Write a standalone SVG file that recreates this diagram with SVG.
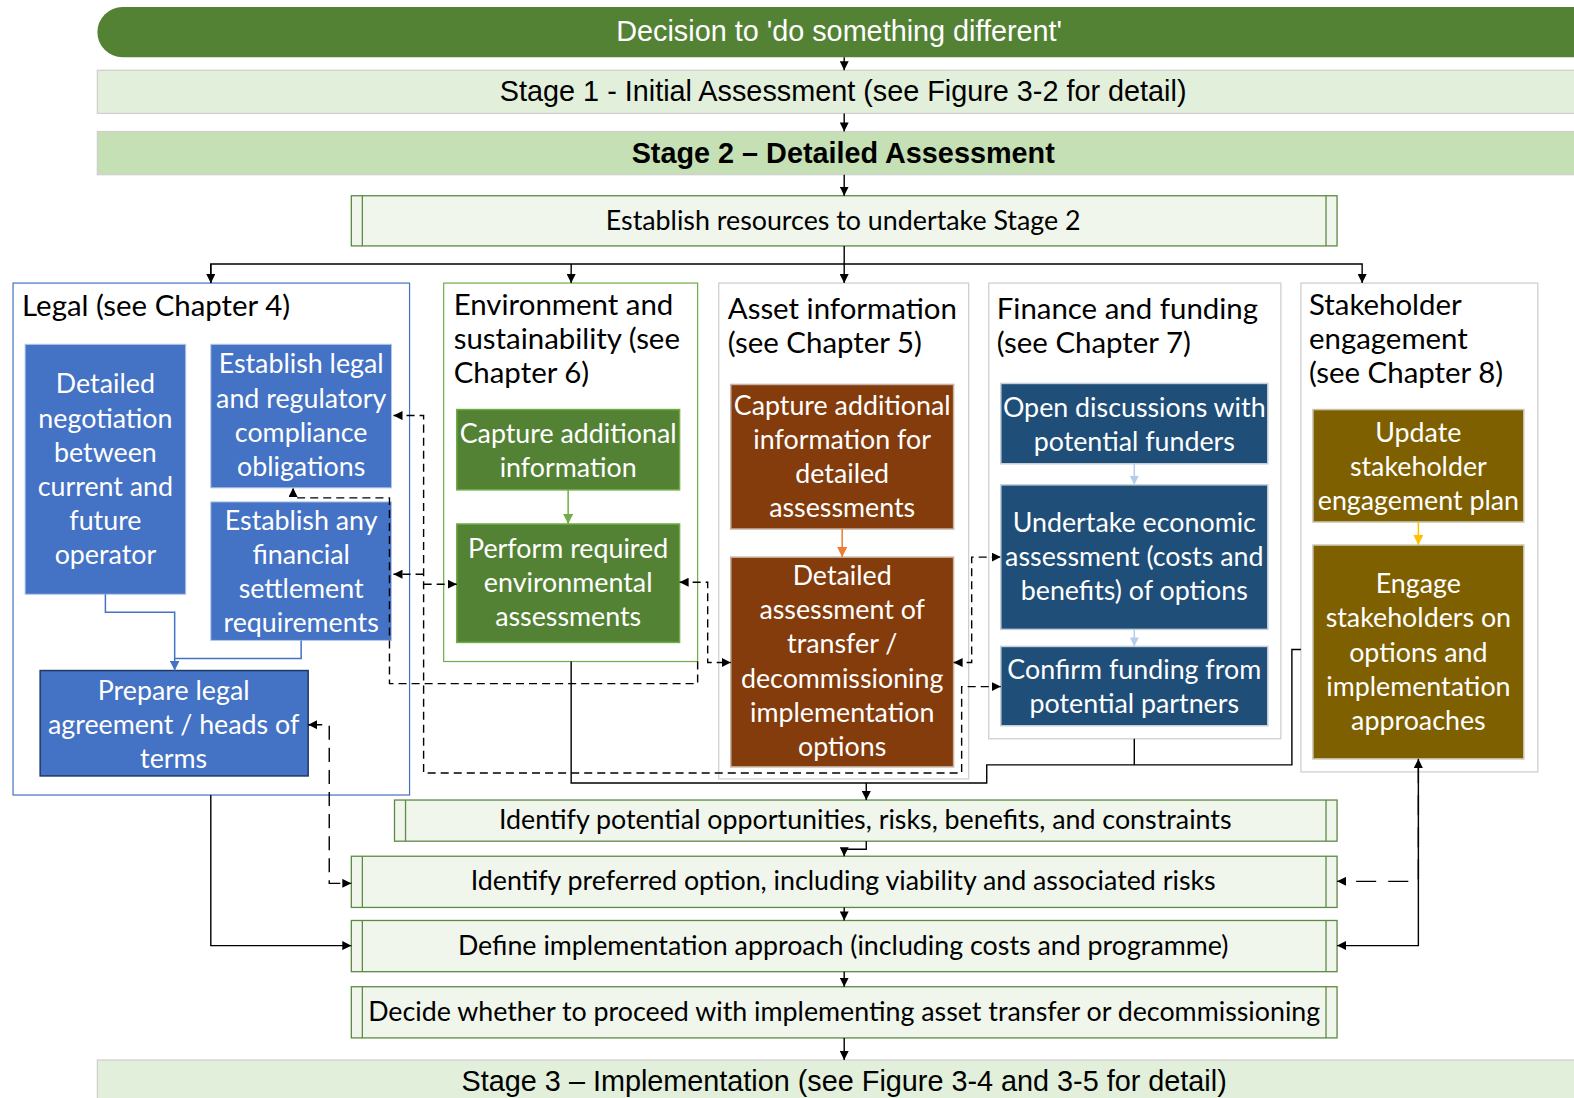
<svg xmlns="http://www.w3.org/2000/svg" width="1574" height="1098" viewBox="0 0 1574 1098">
  <defs>
    <style>
      .bar { font-family: "Liberation Sans", Arial, sans-serif; font-size: 28.7px; text-anchor: middle; fill: #000; }
      .t { font-family: Lato, "Open Sans", sans-serif; font-size: 26.7px; fill: #000; }
      .h { font-family: Lato, "Open Sans", sans-serif; font-size: 29.3px; fill: #000; }
      .w { font-family: Lato, "Open Sans", sans-serif; font-size: 26.7px; fill: #fff; text-anchor: middle; }
      .c { text-anchor: middle; }
      .proc { fill: #F0F6EC; stroke: #5E8A45; stroke-width: 1.3; }
      .procline { stroke: #5E8A45; stroke-width: 1.3; }
      .legal { fill: #4472C4; stroke: #B4C7E7; stroke-width: 1; }
      .env { fill: #548235; stroke: #70AD47; stroke-width: 1.5; }
      .asset { fill: #843C0C; stroke: #C8B4A6; stroke-width: 1.5; }
      .fin { fill: #1F4E79; stroke: #C5CFD9; stroke-width: 1.5; }
      .stk { fill: #7F6000; stroke: #C9C2AE; stroke-width: 1.5; }
      .cont { fill: #fff; stroke: #D0D0D0; stroke-width: 1.3; }
      .ln { fill: none; stroke: #000; stroke-width: 1.4; }
      .dash { fill: none; stroke: #000; stroke-width: 1.4; stroke-dasharray: 8 5; }
      .ldash { fill: none; stroke: #000; stroke-width: 1.4; stroke-dasharray: 14 8; }
      .xldash { fill: none; stroke: #000; stroke-width: 1.4; stroke-dasharray: 20 12; }
    </style>
    <marker id="ah" viewBox="0 0 10 10" refX="10" refY="5" markerWidth="9" markerHeight="9" markerUnits="userSpaceOnUse" orient="auto-start-reverse">
      <path d="M0,0 L10,5 L0,10 z" fill="#000"/>
    </marker>
    <marker id="ahBlue" viewBox="0 0 10 10" refX="10" refY="5" markerWidth="10" markerHeight="10" markerUnits="userSpaceOnUse" orient="auto">
      <path d="M0,0 L10,5 L0,10 z" fill="#4472C4"/>
    </marker>
    <marker id="ahGreen" viewBox="0 0 10 10" refX="10" refY="5" markerWidth="10" markerHeight="10" markerUnits="userSpaceOnUse" orient="auto">
      <path d="M0,0 L10,5 L0,10 z" fill="#70AD47"/>
    </marker>
    <marker id="ahOrange" viewBox="0 0 10 10" refX="10" refY="5" markerWidth="10" markerHeight="10" markerUnits="userSpaceOnUse" orient="auto">
      <path d="M0,0 L10,5 L0,10 z" fill="#ED7D31"/>
    </marker>
    <marker id="ahLight" viewBox="0 0 10 10" refX="10" refY="5" markerWidth="9" markerHeight="9" markerUnits="userSpaceOnUse" orient="auto">
      <path d="M0,0 L10,5 L0,10 z" fill="#B4CDEA"/>
    </marker>
    <marker id="ahYellow" viewBox="0 0 10 10" refX="10" refY="5" markerWidth="10" markerHeight="10" markerUnits="userSpaceOnUse" orient="auto">
      <path d="M0,0 L10,5 L0,10 z" fill="#FFC000"/>
    </marker>
  </defs>

  <rect width="1574" height="1098" fill="#fff"/>

  <g transform="scale(1.0038)">
  <!-- Stage banners -->
  <g id="decision">
    <rect x="97" y="7" width="1530" height="50" rx="25" ry="25" fill="#548235"/>
    <text class="bar" x="836" y="41" style="fill:#fff">Decision to 'do something different'</text>
  </g>
  <g id="stage1">
    <rect x="97" y="70" width="1500" height="43" fill="#E2EFDA" stroke="#D0D0D0" stroke-width="1.3"/>
    <text class="bar" x="840" y="101">Stage 1 - Initial Assessment (see Figure 3-2 for detail)</text>
  </g>
  <g id="stage2">
    <rect x="97" y="131" width="1500" height="43" fill="#C5E0B4" stroke="#D0D0D0" stroke-width="1.3"/>
    <text class="bar" x="840" y="162" font-weight="bold">Stage 2 – Detailed Assessment</text>
  </g>
  <g id="resources">
    <rect class="proc" x="350" y="195" width="982" height="50"/>
    <line class="procline" x1="361" y1="195" x2="361" y2="245"/>
    <line class="procline" x1="1321" y1="195" x2="1321" y2="245"/>
    <text class="t c" x="840" y="229">Establish resources to undertake Stage 2</text>
  </g>

  <!-- Workstream containers -->
  <g id="legal">
    <rect x="13" y="282" width="395" height="510" fill="#fff" stroke="#4472C4" stroke-width="1.2"/>
    <text class="h" x="22" y="315">Legal (see Chapter 4)</text>
  </g>
  <g id="environment">
    <rect x="442" y="282" width="253" height="377" fill="#fff" stroke="#70AD47" stroke-width="1.2"/>
    <text class="h" x="452" y="314">Environment and</text>
    <text class="h" x="452" y="348">sustainability (see</text>
    <text class="h" x="452" y="382">Chapter 6)</text>
  </g>
  <g id="asset">
    <rect class="cont" x="716" y="282" width="249" height="494"/>
    <text class="h" x="725" y="318">Asset information</text>
    <text class="h" x="725" y="352">(see Chapter 5)</text>
  </g>
  <g id="finance">
    <rect class="cont" x="985" y="282" width="291" height="454"/>
    <text class="h" x="993" y="318">Finance and funding</text>
    <text class="h" x="993" y="352">(see Chapter 7)</text>
  </g>
  <g id="stakeholder">
    <rect class="cont" x="1296" y="282" width="236" height="487"/>
    <text class="h" x="1304" y="314">Stakeholder</text>
    <text class="h" x="1304" y="348">engagement</text>
    <text class="h" x="1304" y="382">(see Chapter 8)</text>
  </g>

  <!-- Legal tasks -->
  <g id="negotiation">
    <rect class="legal" x="25" y="343" width="160" height="249"/>
    <text class="w" x="105" y="392">Detailed</text>
    <text class="w" x="105" y="426">negotiation</text>
    <text class="w" x="105" y="460">between</text>
    <text class="w" x="105" y="494">current and</text>
    <text class="w" x="105" y="528">future</text>
    <text class="w" x="105" y="562">operator</text>
  </g>
  <g id="compliance">
    <rect class="legal" x="210" y="343" width="180" height="143"/>
    <text class="w" x="300" y="372">Establish legal</text>
    <text class="w" x="300" y="406">and regulatory</text>
    <text class="w" x="300" y="440">compliance</text>
    <text class="w" x="300" y="474">obligations</text>
  </g>
  <g id="settlement">
    <rect class="legal" x="210" y="500" width="180" height="138"/>
    <text class="w" x="300" y="528">Establish any</text>
    <text class="w" x="300" y="562">financial</text>
    <text class="w" x="300" y="596">settlement</text>
    <text class="w" x="300" y="630">requirements</text>
  </g>
  <g id="agreement">
    <rect x="40" y="668" width="267" height="105" fill="#4472C4" stroke="#203864" stroke-width="1.5"/>
    <text class="w" x="173" y="697">Prepare legal</text>
    <text class="w" x="173" y="731">agreement / heads of</text>
    <text class="w" x="173" y="765">terms</text>
  </g>

  <!-- Environment tasks -->
  <g id="env-capture">
    <rect class="env" x="455" y="408" width="222" height="80"/>
    <text class="w" x="566" y="441">Capture additional</text>
    <text class="w" x="566" y="475">information</text>
  </g>
  <g id="env-assess">
    <rect class="env" x="455" y="522" width="222" height="118"/>
    <text class="w" x="566" y="556">Perform required</text>
    <text class="w" x="566" y="590">environmental</text>
    <text class="w" x="566" y="624">assessments</text>
  </g>

  <!-- Asset tasks -->
  <g id="asset-capture">
    <rect class="asset" x="728" y="383" width="222" height="144"/>
    <text class="w" x="839" y="413">Capture additional</text>
    <text class="w" x="839" y="447">information for</text>
    <text class="w" x="839" y="481">detailed</text>
    <text class="w" x="839" y="515">assessments</text>
  </g>
  <g id="asset-options">
    <rect class="asset" x="728" y="555" width="222" height="209"/>
    <text class="w" x="839" y="583">Detailed</text>
    <text class="w" x="839" y="617">assessment of</text>
    <text class="w" x="839" y="651">transfer /</text>
    <text class="w" x="839" y="685">decommissioning</text>
    <text class="w" x="839" y="719">implementation</text>
    <text class="w" x="839" y="753">options</text>
  </g>

  <!-- Finance tasks -->
  <g id="fin-discuss">
    <rect class="fin" x="997" y="382" width="266" height="80"/>
    <text class="w" x="1130" y="415">Open discussions with</text>
    <text class="w" x="1130" y="449">potential funders</text>
  </g>
  <g id="fin-economic">
    <rect class="fin" x="997" y="483" width="266" height="144"/>
    <text class="w" x="1130" y="530">Undertake economic</text>
    <text class="w" x="1130" y="564">assessment (costs and</text>
    <text class="w" x="1130" y="598">benefits) of options</text>
  </g>
  <g id="fin-confirm">
    <rect class="fin" x="997" y="644" width="266" height="79"/>
    <text class="w" x="1130" y="676">Confirm funding from</text>
    <text class="w" x="1130" y="710">potential partners</text>
  </g>

  <!-- Stakeholder tasks -->
  <g id="stk-plan">
    <rect class="stk" x="1308" y="408" width="210" height="112"/>
    <text class="w" x="1413" y="440">Update</text>
    <text class="w" x="1413" y="474">stakeholder</text>
    <text class="w" x="1413" y="508">engagement plan</text>
  </g>
  <g id="stk-engage">
    <rect class="stk" x="1308" y="543" width="210" height="213"/>
    <text class="w" x="1413" y="591">Engage</text>
    <text class="w" x="1413" y="625">stakeholders on</text>
    <text class="w" x="1413" y="659">options and</text>
    <text class="w" x="1413" y="693">implementation</text>
    <text class="w" x="1413" y="727">approaches</text>
  </g>

  <!-- Closing process steps -->
  <g id="opportunities">
    <rect class="proc" x="393" y="797" width="939" height="41"/>
    <line class="procline" x1="404" y1="797" x2="404" y2="838"/>
    <line class="procline" x1="1321" y1="797" x2="1321" y2="838"/>
    <text class="t c" x="862" y="826">Identify potential opportunities, risks, benefits, and constraints</text>
  </g>
  <g id="preferred">
    <rect class="proc" x="350" y="853" width="982" height="51"/>
    <line class="procline" x1="361" y1="853" x2="361" y2="904"/>
    <line class="procline" x1="1321" y1="853" x2="1321" y2="904"/>
    <text class="t c" x="840" y="887">Identify preferred option, including viability and associated risks</text>
  </g>
  <g id="approach">
    <rect class="proc" x="350" y="917" width="982" height="51"/>
    <line class="procline" x1="361" y1="917" x2="361" y2="968"/>
    <line class="procline" x1="1321" y1="917" x2="1321" y2="968"/>
    <text class="t c" x="840" y="951">Define implementation approach (including costs and programme)</text>
  </g>
  <g id="decide">
    <rect class="proc" x="350" y="983" width="982" height="51"/>
    <line class="procline" x1="361" y1="983" x2="361" y2="1034"/>
    <line class="procline" x1="1321" y1="983" x2="1321" y2="1034"/>
    <text class="t c" x="841" y="1017">Decide whether to proceed with implementing asset transfer or decommissioning</text>
  </g>
  <g id="stage3">
    <rect x="97" y="1056" width="1500" height="60" fill="#E2EFDA" stroke="#D0D0D0" stroke-width="1.3"/>
    <text class="bar" x="841" y="1087">Stage 3 – Implementation (see Figure 3-4 and 3-5 for detail)</text>
  </g>

  <!-- Connectors -->
  <g id="connectors">
    <!-- main spine -->
    <path class="ln" d="M841,57 V70" marker-end="url(#ah)"/>
    <path class="ln" d="M841,113 V131" marker-end="url(#ah)"/>
    <path class="ln" d="M841,174 V195" marker-end="url(#ah)"/>
    <path class="ln" d="M841,245 V282" marker-end="url(#ah)"/>
    <path class="ln" d="M210,282 V263 H1357 V282" marker-end="url(#ah)"/>
    <path class="ln" d="M210,263 V282" marker-end="url(#ah)"/>
    <path class="ln" d="M569,263 V282" marker-end="url(#ah)"/>

    <!-- workstream outputs gathered into the opportunities step -->
    <path class="ln" d="M569,659 V780 H983 V762 H1287 V647 H1296"/>
    <path class="ln" d="M1130,736 V762"/>
    <path class="ln" d="M863,780 V797" marker-end="url(#ah)"/>
    <path class="ln" d="M863,838 V846 H841 V853" marker-end="url(#ah)"/>
    <path class="ln" d="M841,904 V917" marker-end="url(#ah)"/>
    <path class="ln" d="M841,968 V983" marker-end="url(#ah)"/>
    <path class="ln" d="M841,1034 V1056" marker-end="url(#ah)"/>
    <path class="ln" d="M210,792 V942 H350" marker-end="url(#ah)"/>
    <path class="ln" d="M1332,942 H1413 V756" marker-start="url(#ah)" marker-end="url(#ah)"/>

    <!-- flows inside workstreams -->
    <path d="M105,592 V610 H174 V668" fill="none" stroke="#4472C4" stroke-width="1.5" marker-end="url(#ahBlue)"/>
    <path d="M300,638 V656 H174" fill="none" stroke="#4472C4" stroke-width="1.5"/>
    <path d="M566,488 V522" fill="none" stroke="#70AD47" stroke-width="1.5" marker-end="url(#ahGreen)"/>
    <path d="M839,527 V555" fill="none" stroke="#ED7D31" stroke-width="1.5" marker-end="url(#ahOrange)"/>
    <path d="M1130,462 V483" fill="none" stroke="#B4CDEA" stroke-width="1.5" marker-end="url(#ahLight)"/>
    <path d="M1130,627 V644" fill="none" stroke="#B4CDEA" stroke-width="1.5" marker-end="url(#ahLight)"/>
    <path d="M1413,520 V543" fill="none" stroke="#FFC000" stroke-width="1.5" marker-end="url(#ahYellow)"/>

    <!-- dashed interdependencies -->
    <path class="dash" d="M392,414 H422 V770 H958 V684 H997" marker-start="url(#ah)" marker-end="url(#ah)"/>
    <path class="dash" d="M422,572 H392" marker-end="url(#ah)"/>
    <path class="dash" d="M422,582 H455" marker-end="url(#ah)"/>
    <path class="dash" d="M695,659 V681 H388 V496 H292 V486" marker-end="url(#ah)"/>
    <path class="dash" d="M677,580 H705 V660 H728" marker-start="url(#ah)" marker-end="url(#ah)"/>
    <path class="dash" d="M950,660 H968 V555 H997" marker-start="url(#ah)" marker-end="url(#ah)"/>
    <path class="ldash" d="M307,722 H328 V880 H350" marker-start="url(#ah)" marker-end="url(#ah)"/>
    <path class="xldash" d="M1413,760 V878 H1332" marker-end="url(#ah)"/>
  </g>
  </g>
</svg>
